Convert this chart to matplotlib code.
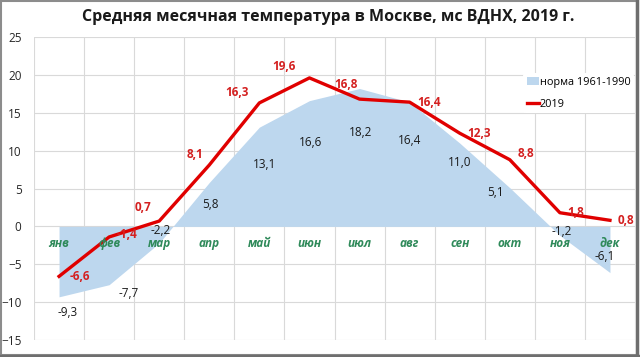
import matplotlib
matplotlib.use('Agg')
import matplotlib.pyplot as plt
from matplotlib.patches import Rectangle, Patch
from matplotlib.lines import Line2D

plt.rcParams['font.family'] = ['Open Sans', 'DejaVu Sans']

months = ['янв', 'фев', 'мар', 'апр', 'май', 'июн', 'июл', 'авг', 'сен', 'окт', 'ноя', 'дек']
t2019 = [-6.6, -1.4, 0.7, 8.1, 16.3, 19.6, 16.8, 16.4, 12.3, 8.8, 1.8, 0.8]
norm = [-9.3, -7.7, -2.2, 5.8, 13.1, 16.6, 18.2, 16.4, 11.0, 5.1, -1.2, -6.1]

# label offsets in pixels (dx, dy)
off2019 = [(21, 0), (18, 2), (-16, 14), (-14, 11), (-22, 10), (-25, 11),
           (-14, 15), (19, 0), (19, 0), (16, 6), (16, 0), (16, 0)]
offnorm = [(9, -16), (20, -9), (1, 13), (1, -22), (5, -37), (1, -42),
           (1, -44), (0, -38), (0, -19), (-14, -5), (2, 4), (-5, 16)]

def fmt(v):
    return ('%.1f' % v).replace('.', ',')

fig = plt.figure(figsize=(6.4, 3.57), dpi=100)
ax = fig.add_axes([34/640, 17/357, 601/640, 303/357])

x = list(range(len(months)))
ax.fill_between(x, norm, 0, color='#bdd7ee', lw=0, zorder=2)
ax.plot(x, t2019, color='#e00000', lw=2.4, zorder=3)

for i in x:
    ax.annotate(fmt(t2019[i]), (i, t2019[i]), xytext=off2019[i], textcoords='offset pixels',
                ha='center', va='center', color='#d42020', fontsize=8.5, fontweight='bold', zorder=5)
    ax.annotate(fmt(norm[i]), (i, norm[i]), xytext=offnorm[i], textcoords='offset pixels',
                ha='center', va='center', color='#1a1a1a', fontsize=8.5, zorder=5)
    # month names sit just under the zero line, over the area
    ax.annotate(months[i], (i, 0), xytext=(0, -17), textcoords='offset pixels',
                ha='center', va='center', color='#2f8a5a', fontsize=8.5,
                fontweight='bold', fontstyle='italic', zorder=4)

ax.set_xlim(-0.5, 11.5)
ax.set_ylim(-15, 25)
ax.set_yticks(range(-15, 26, 5))
ax.set_xticks([i - 0.5 for i in range(13)])
ax.set_xticklabels([])
for s in ax.spines.values():
    s.set_visible(False)
ax.tick_params(axis='x', length=0)
ax.tick_params(axis='y', length=0, pad=9, labelsize=8.5, labelcolor='#262626')
ax.grid(color='#d9d9d9', lw=0.8, zorder=0)
ax.set_axisbelow(True)

handles = [Patch(facecolor='#bdd7ee', edgecolor='none'),
           Line2D([], [], color='#e00000', lw=2.4)]
leg = fig.legend(handles, ['норма 1961-1990', '2019'], loc='upper left',
                 bbox_to_anchor=(518/640, 1 - 68/357), frameon=True, fontsize=7.8,
                 handlelength=1.1, handletextpad=0.1, labelspacing=1.0, borderpad=0.3)
leg.get_frame().set_facecolor('white')
leg.get_frame().set_edgecolor('none')
leg.get_frame().set_alpha(1)

fig.text(328/640, 1 - 17/357, 'Средняя месячная температура в Москве, мс ВДНХ, 2019 г.',
         ha='center', va='center', fontsize=11.5, fontweight='bold', color='#1a1a1a')

fig.patches.append(Rectangle((0.002, 0.006), 0.993, 0.99, transform=fig.transFigure,
                             fill=False, edgecolor='#8c8c8c', lw=1.5))
fig.lines.append(Line2D([0.996, 0.996], [0, 1], transform=fig.transFigure, color='#6e6e6e', lw=2.5))
fig.lines.append(Line2D([0, 1], [0.004, 0.004], transform=fig.transFigure, color='#6e6e6e', lw=2.5))

fig.savefig('out.png', dpi=100)
